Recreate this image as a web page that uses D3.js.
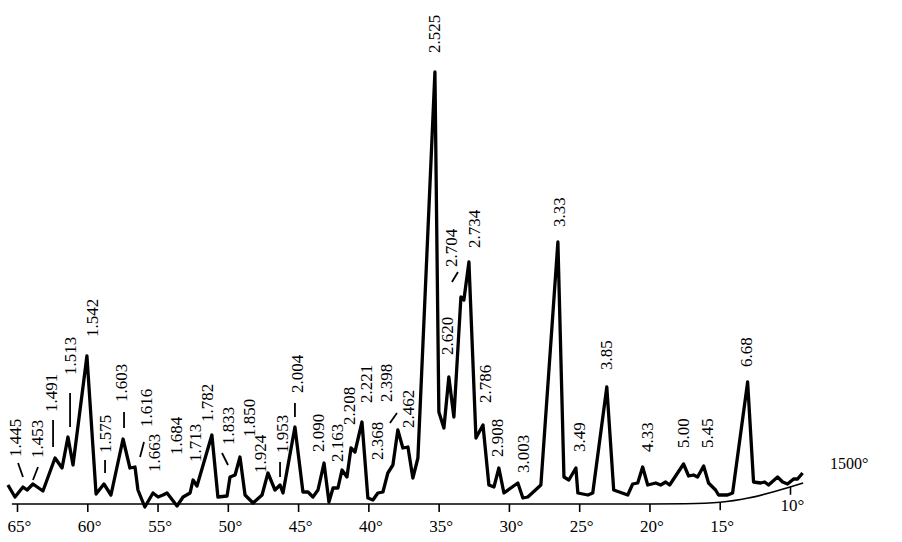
<!DOCTYPE html>
<html>
<head>
<meta charset="utf-8">
<script src="https://cdn.jsdelivr.net/npm/d3@7"></script>
<style>
  body { margin: 0; background: #fff; }
  text { font-family: "Liberation Serif", "DejaVu Serif", serif; fill: #000; }
</style>
</head>
<body>
<div id="chart"></div>
<script>
// diffraction trace: 2-theta (deg) and intensity (arbitrary units)
const angles = [65.68, 65.18, 64.61, 64.32, 63.90, 63.19, 62.33, 61.83, 61.41, 61.05,
  60.06, 59.41, 58.85, 58.35, 57.49, 57.00, 56.64, 56.43, 55.94, 55.36,
  55.00, 54.65, 54.36, 53.65, 53.22, 52.72, 52.51, 52.23, 51.17, 50.74,
  50.09, 49.88, 49.52, 49.17, 48.81, 48.24, 47.60, 47.18, 46.68, 46.32,
  46.11, 45.26, 44.69, 44.33, 43.98, 43.62, 43.19, 42.84, 42.55, 42.20,
  41.91, 41.56, 41.27, 40.99, 40.49, 40.07, 39.71, 39.36, 39.00, 38.65,
  38.29, 37.94, 37.58, 37.22, 36.87, 36.51, 35.30, 35.02, 34.66, 34.31,
  33.95, 33.45, 33.24, 32.88, 32.38, 31.88, 31.46, 31.10, 30.75, 30.39,
  29.40, 29.04, 28.69, 27.76, 26.55, 26.12, 25.77, 25.27, 25.13, 24.42,
  24.07, 23.07, 22.58, 21.58, 21.23, 20.87, 20.52, 20.16, 19.59, 19.24,
  18.88, 18.60, 17.61, 17.25, 16.90, 16.61, 16.18, 15.83, 15.33, 15.12,
  14.48, 14.12, 13.05, 12.63, 12.13, 11.84, 11.56, 10.92, 10.56, 10.21,
  9.78, 9.50, 9.14];
const intensity = [19, 7, 17, 14, 20, 13, 46, 36, 67, 39,
  148, 10, 20, 9, 65, 36, 37, 14, -3, 11,
  7, 9, 11, -2, 7, 11, 24, 18, 69, 7,
  8, 27, 29, 47, 9, 1, 9, 31, 14, 19,
  11, 77, 12, 12, 7, 14, 41, 2, 16, 16,
  34, 27, 56, 52, 82, 6, 4, 11, 12, 31,
  39, 74, 56, 57, 26, 46, 432, 92, 76, 127,
  87, 207, 204, 242, 66, 79, 19, 17, 36, 11,
  21, 6, 7, 19, 262, 27, 24, 36, 11, 9,
  11, 117, 14, 9, 20, 21, 37, 19, 21, 19,
  22, 19, 40, 28, 29, 27, 38, 21, 14, 9,
  9, 11, 122, 22, 21, 22, 19, 27, 22, 20,
  25, 25, 31];

// d-spacing labels and where they sit (angle, intensity level of label foot)
const dLabels = ["1.445", "1.453", "1.491", "1.513", "1.542", "1.575", "1.603", "1.616",
  "1.663", "1.684", "1.713", "1.782", "1.833", "1.850", "1.924", "1.953", "2.004",
  "2.090", "2.163", "2.208", "2.221", "2.368", "2.398", "2.462", "2.525", "2.620",
  "2.704", "2.734", "2.786", "2.908", "3.003", "3.33", "3.49", "3.85", "4.33",
  "5.00", "5.45", "6.68"];
const labelAngle = [65.18, 63.61, 62.62, 61.26, 59.70, 58.77, 57.64, 55.86,
  55.29, 53.72, 52.37, 51.52, 50.02, 48.53, 47.75, 46.18, 45.12,
  43.62, 42.27, 41.41, 40.20, 39.42, 38.78, 37.22, 35.37, 34.44,
  34.16, 32.52, 31.74, 30.88, 29.03, 26.47, 25.05, 23.13, 20.21,
  17.65, 15.94, 13.17];
const labelLevel = [47, 46, 92, 129, 167, 51, 102, 77,
  32, 49, 42, 82, 59, 67, 31, 51, 111,
  52, 42, 79, 101, 44, 102, 76, 451, 149,
  237, 256, 101, 47, 31, 277, 52, 134, 52,
  56, 56, 137];

// short leader strokes: [angle1, level1, angle2, level2]
const leaders = [
  [64.96, 41, 64.61, 27], [63.54, 37, 63.90, 24], [62.47, 84, 62.47, 57],
  [61.26, 111, 61.26, 77], [58.77, 44, 58.77, 31], [57.42, 92, 57.42, 76],
  [56.28, 47, 56.00, 62], [50.45, 51, 50.02, 39], [46.32, 42, 46.32, 27],
  [45.26, 101, 45.26, 87], [38.50, 81, 38.00, 91], [34.09, 222, 33.66, 232]
];

const tickAngles = [65, 60, 55, 50, 45, 40, 35, 30, 25, 20, 15, 10];
// rise of the recorder baseline at low angles
const baseAngles = [65.4, 20, 17.5, 15, 13, 11, 9.1];
const baseLift = [0, 0, 0.3, 1.8, 6, 13, 21];

const w = 902;
const h = 542;

const x = d3.scaleLinear().domain([65, 10]).range([17.5, 790.5]);
const y = d3.scaleLinear().domain([0, 432]).range([504, 72]);
const lift = d3.scaleLinear().domain(baseAngles).range(baseLift);

const svg = d3.select("#chart")
  .append("svg")
  .attr("width", w)
  .attr("height", h);

// baseline / axis
svg.append("path")
  .datum(baseAngles.map((a, i) => [a, baseLift[i]]))
  .attr("d", d3.line().x(d => x(d[0])).y(d => y(d[1])).curve(d3.curveMonotoneX))
  .attr("fill", "none")
  .attr("stroke", "#000")
  .attr("stroke-width", 1.6);

svg.append("g")
  .selectAll("line")
  .data(tickAngles)
  .join("line")
  .attr("x1", d => x(d))
  .attr("x2", d => x(d))
  .attr("y1", d => y(lift(d)))
  .attr("y2", d => y(lift(d)) + 8)
  .attr("stroke", "#000")
  .attr("stroke-width", 1.6);

svg.append("g")
  .selectAll("text")
  .data(tickAngles)
  .join("text")
  .attr("x", d => x(d) + 2)
  .attr("y", d => d === 10 ? y(lift(d)) + 24 : 532)
  .attr("text-anchor", "middle")
  .attr("font-size", 17)
  .text(d => `${d}°`);

// trace
svg.append("path")
  .datum(angles.map((a, i) => [a, intensity[i]]))
  .attr("d", d3.line().x(d => x(d[0])).y(d => y(d[1])))
  .attr("fill", "none")
  .attr("stroke", "#000")
  .attr("stroke-width", 3.3)
  .attr("stroke-linejoin", "round");

// leaders
svg.append("g")
  .selectAll("line")
  .data(leaders)
  .join("line")
  .attr("x1", d => x(d[0]))
  .attr("y1", d => y(d[1]))
  .attr("x2", d => x(d[2]))
  .attr("y2", d => y(d[3]))
  .attr("stroke", "#000")
  .attr("stroke-width", 1.8);

// d-spacing labels, rotated
svg.append("g")
  .selectAll("text")
  .data(dLabels)
  .join("text")
  .attr("transform", (d, i) => `translate(${x(labelAngle[i])},${y(labelLevel[i])}) rotate(-90)`)
  .attr("dy", "0.35em")
  .attr("font-size", 17)
  .text(d => d);

svg.append("text")
  .attr("x", 830)
  .attr("y", 469)
  .attr("font-size", 16)
  .text("1500°");
</script>
</body>
</html>
